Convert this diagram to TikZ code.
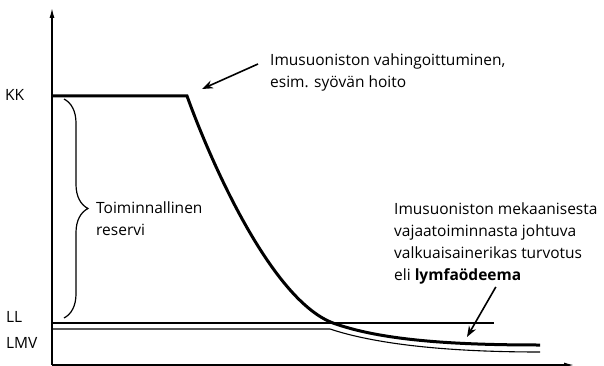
\documentclass[tikz,border=0pt]{standalone}
\usepackage{fontspec}
\setmainfont{Open Sans}
\usetikzlibrary{arrows.meta,decorations.pathreplacing}

\begin{document}
\begin{tikzpicture}[x=1pt, y=-1pt, font=\fontsize{15.5}{22}\selectfont,
  lbl/.style={inner sep=0pt, align=left, anchor=base west},
  axis/.style={line width=1.3pt, -{Latex[length=10pt,width=5pt]}},
  pointer/.style={line width=1.6pt, -{Stealth[length=11pt,width=8pt]}}]
  \useasboundingbox (0,0) rectangle (604,366);

  % axes
  \coordinate (O) at (52,365);
  \draw[axis] (O) -- (52,8);
  \draw[axis] (O) -- (574,365);

  % levels and the drop
  \draw[line width=2pt] (52,323) -- (494,323);
  \draw[line width=1.1pt] (52,329) -- (330,329)
    .. controls (360,339) and (420,352) .. (540,352);
  \draw[line width=3pt] (52,96) -- (187,96)
    .. controls (212,165) and (272,300) .. (333,323)
    .. controls (380,340) and (450,345) .. (540,345);

  % reserve
  \draw[line width=1.2pt, decorate, decoration={brace, amplitude=24pt}]
    (64,99) -- (64,318);

  % base = last line of each label
  \node[lbl] (kk)  at (5,101) {KK};
  \node[lbl] (ll)  at (6,322) {LL};
  \node[lbl] (lmv) at (6,348) {LMV};
  \node[lbl] (reserve) at (96,235) {Toiminnallinen\\reservi};
  \node[lbl] (imtext)  at (270,88) {Imusuoniston vahingoittuminen,\\esim. syövän hoito};
  \node[lbl] (lymtext) at (394,280) {Imusuoniston mekaanisesta\\vajaatoiminnasta johtuva\\valkuaisainerikas turvotus\\eli \textbf{lymfaödeema}};

  \coordinate (damage) at (202,89);
  \coordinate (edema)  at (467,337);
  \draw[pointer] ([shift={(-12pt,24pt)}]imtext.base west) -- (damage);
  \draw[pointer] ([yshift=-3pt]lymtext.south) -- (edema);
\end{tikzpicture}
\end{document}
